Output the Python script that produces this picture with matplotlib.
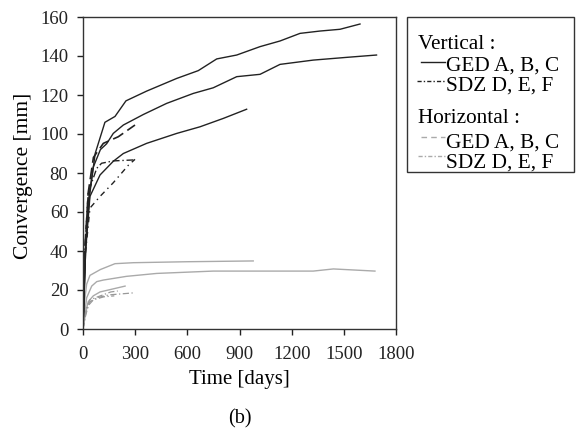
import matplotlib
matplotlib.use("Agg")
import matplotlib.pyplot as plt
from matplotlib.lines import Line2D
from matplotlib.patches import Rectangle

plt.rcParams['font.family'] = ['Liberation Serif', 'DejaVu Serif']

# Vertical convergence, GED (solid black)
ged_v1_t = [0, 15, 40, 70, 126, 184, 247, 366, 539, 663, 769, 884, 1018, 1133, 1248, 1363, 1478, 1593]
ged_v1_c = [0, 45, 70, 90, 106, 109, 117, 122, 128.5, 132.5, 138.5, 140.5, 144.8, 147.7, 151.6, 152.8, 153.7, 156.4]
ged_v2_t = [0, 15, 30, 59, 100, 136, 174, 232, 347, 481, 634, 749, 884, 1018, 1133, 1324, 1516, 1688]
ged_v2_c = [0, 40, 65, 83, 92, 95, 100.3, 104.6, 110, 115.7, 120.8, 123.7, 129.4, 130.6, 135.7, 137.9, 139.3, 140.5]
ged_v3_t = [0, 15, 40, 98, 174, 232, 366, 539, 673, 807, 941]
ged_v3_c = [0, 40, 68, 79, 86, 90, 95.2, 100.3, 103.7, 108, 112.7]

# Vertical convergence, SDZ (dashed / dash-dot black)
sdz_v1_t = [0, 10, 30, 60, 117, 203, 299]
sdz_v1_c = [0, 40, 70, 88, 95.2, 98.6, 104.6]
sdz_v2_t = [0, 10, 30, 79, 107, 174, 290]
sdz_v2_c = [0, 40, 70, 82.4, 85, 86.2, 86.7]
sdz_v3_t = [0, 10, 40, 98, 174, 261, 299]
sdz_v3_c = [0, 35, 62, 68, 75, 84, 87]

# Horizontal convergence, GED (gray)
ged_h1_t = [0, 10, 21, 40, 100, 184, 290, 600, 979]
ged_h1_c = [0, 15, 23, 27.5, 30.5, 33.5, 34, 34.5, 34.9]
ged_h2_t = [0, 10, 21, 50, 79, 117, 250, 424, 749, 1324, 1440, 1679]
ged_h2_c = [0, 8, 16, 22, 24.3, 25.1, 27, 28.5, 29.7, 29.7, 30.8, 29.7]
ged_h3_t = [0, 15, 30, 59, 98, 242]
ged_h3_c = [0, 8, 14, 17, 19, 22]

# Horizontal convergence, SDZ (gray dash-dot)
sdz_h1_t = [0, 15, 40, 80, 150, 220, 299]
sdz_h1_c = [0, 8, 14, 16, 17.5, 18, 18.6]
sdz_h2_t = [0, 15, 40, 100, 160, 200]
sdz_h2_c = [0, 10, 15, 17, 19, 19.5]
sdz_h3_t = [0, 10, 30, 60, 120, 180]
sdz_h3_c = [0, 5, 12, 15, 16.5, 17]

x_ticks = [0, 300, 600, 900, 1200, 1500, 1800]
y_ticks = [0, 20, 40, 60, 80, 100, 120, 140, 160]

W, H = 577, 434
fig = plt.figure(figsize=(W / 100, H / 100), dpi=100)
ax = fig.add_axes([83 / W, 1 - 329 / H, (396 - 83) / W, (329 - 17) / H])

black = '#222222'
gray = '#aaaaaa'
for t, c in [(ged_h1_t, ged_h1_c), (ged_h2_t, ged_h2_c), (ged_h3_t, ged_h3_c)]:
    ax.plot(t, c, color=gray, lw=1.0)
for t, c in [(sdz_h1_t, sdz_h1_c), (sdz_h2_t, sdz_h2_c), (sdz_h3_t, sdz_h3_c)]:
    ax.plot(t, c, color='#999999', lw=0.9, dashes=(5, 2, 1, 2))
for t, c in [(ged_v1_t, ged_v1_c), (ged_v2_t, ged_v2_c), (ged_v3_t, ged_v3_c)]:
    ax.plot(t, c, color=black, lw=1.0)
ax.plot(sdz_v1_t, sdz_v1_c, color=black, lw=1.2, dashes=(7, 3))
ax.plot(sdz_v2_t, sdz_v2_c, color=black, lw=1.0, dashes=(5, 2, 1, 2))
ax.plot(sdz_v3_t, sdz_v3_c, color=black, lw=1.0, dashes=(4, 3, 1, 3))

ax.set_xlim(0, 1800)
ax.set_ylim(0, 160)
ax.set_xticks(x_ticks)
ax.set_yticks(y_ticks)
ax.tick_params(direction='out', length=4, width=1, labelsize=13.5, colors='#222222')
ax.tick_params(axis='x', pad=8.5)
ax.tick_params(axis='y', pad=6.5)
for s in ax.spines.values():
    s.set_color('#333333')
    s.set_linewidth(1.0)
ax.set_xlabel('Time [days]', fontsize=15, labelpad=5)
ax.set_ylabel('Convergence [mm]', fontsize=15.5)
ax.yaxis.set_label_coords(-0.16, 0.49)

fig.text(240 / W, 1 - 419 / H, '(b)', fontsize=14.5, ha='center', va='center')

# legend drawn as a framed block on the figure
def fx(px):
    return px / W

def fy(py):
    return 1 - py / H

fig.patches.append(Rectangle((fx(407), fy(172)), fx(574) - fx(407), fy(17) - fy(172),
                             transform=fig.transFigure, fill=False, edgecolor='#333333', lw=1.0))
leg_fs = 15.3
headers = [('Vertical :', 49), ('Horizontal :', 123)]
for label, yb in headers:
    fig.text(fx(418), fy(yb), label, fontsize=leg_fs, ha='left', va='baseline')
entries = [
    ('GED A, B, C', 61.7, 70.7, 421, dict(color=black, lw=1.0)),
    ('SDZ D, E, F', 80.5, 90.5, 417, dict(color=black, lw=1.0, dashes=(3, 1.5, 1, 1.5))),
    ('GED A, B, C', 137, 147.5, 421, dict(color=gray, lw=1.0, dashes=(4, 3))),
    ('SDZ D, E, F', 156, 167.5, 418, dict(color=gray, lw=1.0, dashes=(3, 1.5, 1, 1.5))),
]
for label, yl, yb, x0, style in entries:
    fig.lines.append(Line2D([fx(x0), fx(445)], [fy(yl), fy(yl)], transform=fig.transFigure, **style))
    fig.text(fx(446.5), fy(yb), label, fontsize=leg_fs, ha='left', va='baseline')

fig.savefig('out.png', dpi=100)
